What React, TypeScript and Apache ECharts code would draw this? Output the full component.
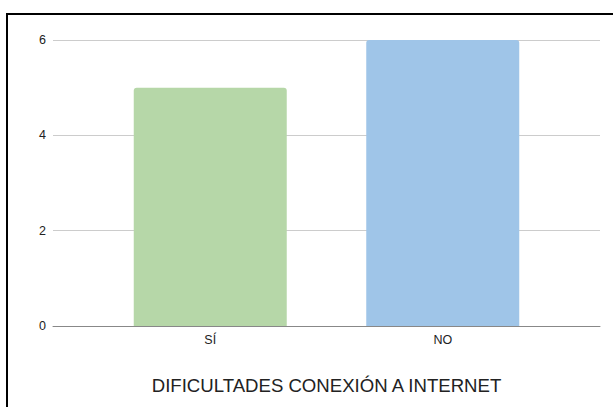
import React, { useEffect, useRef } from "react";
import * as echarts from "echarts";

const categories = ["SÍ", "NO"];
const values = [5, 6];
const barColors = ["#b6d7a8", "#9fc5e8"];
const yTicks = { min: 0, max: 6, interval: 2 };
const titleText = "DIFICULTADES CONEXIÓN A INTERNET";

const FONT = "'Liberation Sans', Arial, sans-serif";

export default function App() {
  const ref = useRef<HTMLDivElement>(null);
  useEffect(() => {
    if (!ref.current) return;
    const chart = echarts.init(ref.current, undefined, { renderer: "svg" });
    chart.setOption({
      animation: false,
      backgroundColor: "#ffffff",
      textStyle: { fontFamily: FONT },
      graphic: [
        {
          type: "rect",
          shape: { x: 7, y: 14, width: 800, height: 600 },
          style: { fill: "none", stroke: "#000", lineWidth: 2 },
          z: 100,
        },
        {
          type: "text",
          x: 326.5,
          y: 385,
          style: {
            text: titleText,
            fontFamily: FONT,
            fontSize: 18.6,
            fill: "#222",
            align: "center",
            verticalAlign: "middle",
          },
        },
      ],
      grid: [
        { left: 53, right: 13, top: 40, bottom: 81 },
        { left: 94, right: 54, top: 40, bottom: 81 },
      ],
      xAxis: [
        {
          type: "category",
          gridIndex: 0,
          data: categories,
          axisLine: { show: true, lineStyle: { color: "#888", width: 1 } },
          axisTick: { show: false },
          axisLabel: { show: false },
          z: 5,
        },
        {
          type: "category",
          gridIndex: 1,
          data: categories,
          axisLine: { show: false },
          axisTick: { show: false },
          axisLabel: { fontFamily: FONT, fontSize: 12.5, color: "#222", margin: 7 },
        },
      ],
      yAxis: [
        {
          type: "value",
          gridIndex: 0,
          min: yTicks.min,
          max: yTicks.max,
          interval: yTicks.interval,
          axisLine: { show: false },
          axisTick: { show: false },
          axisLabel: { fontFamily: FONT, fontSize: 12.5, color: "#222", margin: 7 },
          splitLine: { lineStyle: { color: "#cccccc", width: 1 } },
        },
        {
          type: "value",
          gridIndex: 1,
          min: yTicks.min,
          max: yTicks.max,
          interval: yTicks.interval,
          show: false,
          splitLine: { show: false },
        },
      ],
      series: [
        {
          type: "bar",
          xAxisIndex: 1,
          yAxisIndex: 1,
          barWidth: 153,
          data: values.map((v, i) => ({
            value: v,
            itemStyle: { color: barColors[i], borderRadius: [3, 3, 0, 0] },
          })),
          z: 2,
        },
      ],
    });
    return () => chart.dispose();
  }, []);
  return (
    <div
      ref={ref}
      style={{ position: "absolute", left: 0, top: 0, width: 613, height: 407 }}
    />
  );
}
